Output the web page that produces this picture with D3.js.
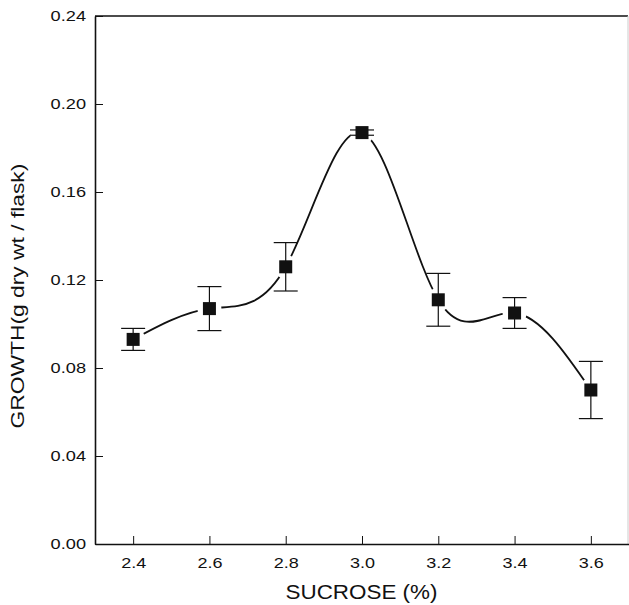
<!DOCTYPE html>
<html>
<head>
<meta charset="utf-8">
<script src="https://cdn.jsdelivr.net/npm/d3@7"></script>
<style>
  body { margin: 0; background: #fff; }
  text { font-family: "Liberation Sans", Arial, sans-serif; fill: #111; }
</style>
</head>
<body>
<div class="canva"></div>
<script>
// data
const sucrose = [2.4, 2.6, 2.8, 3.0, 3.2, 3.4, 3.6]
const growth  = [0.093, 0.107, 0.126, 0.187, 0.111, 0.105, 0.070]
const errs    = [0.005, 0.010, 0.011, 0.0012, 0.012, 0.007, 0.013]
const xTicks  = [2.4, 2.6, 2.8, 3.0, 3.2, 3.4, 3.6]
const yTicks  = [0.00, 0.04, 0.08, 0.12, 0.16, 0.20, 0.24]

const W = 629, H = 605
const plotL = 95, plotR = 628, plotT = 16, plotB = 544

const data = sucrose.map((s, i) => ({x: s, y: growth[i], e: errs[i]}))

const x = d3.scaleLinear().domain([2.3, 3.7]).range([plotL, plotR + 1])
const y = d3.scaleLinear().domain([0, 0.24]).range([plotB, plotT])

const svg = d3.select('.canva').append('svg')
    .attr('width', W)
    .attr('height', H)

// stretch text a bit wider, the scan font is broad
function widen(sel, k) {
    sel.each(function () {
        const len = this.getComputedTextLength()
        d3.select(this).attr('textLength', len * k).attr('lengthAdjust', 'spacingAndGlyphs')
    })
}

// frame
svg.append('line').attr('x1', plotL).attr('x2', plotR).attr('y1', plotT).attr('y2', plotT)
    .attr('stroke', '#111').attr('stroke-width', 1.5)
svg.append('line').attr('x1', plotR).attr('x2', plotR).attr('y1', plotT).attr('y2', plotB)
    .attr('stroke', '#ccc').attr('stroke-width', 1)

const xAxis = svg.append('g')
    .attr('transform', `translate(0,${plotB})`)
    .call(d3.axisBottom(x).tickValues(xTicks).tickSizeInner(-8).tickSizeOuter(0).tickPadding(13)
        .tickFormat(d3.format('.1f')))
xAxis.select('.domain').attr('stroke', '#111').attr('stroke-width', 1.6)
xAxis.selectAll('.tick line').attr('stroke', '#111').attr('stroke-width', 1)
xAxis.selectAll('.tick text').attr('font-size', 15).attr('fill', '#111').call(widen, 1.2)

const yAxis = svg.append('g')
    .attr('transform', `translate(${plotL},0)`)
    .call(d3.axisLeft(y).tickValues(yTicks).tickSizeInner(-8).tickSizeOuter(0).tickPadding(9)
        .tickFormat(d3.format('.2f')))
yAxis.select('.domain').attr('stroke', '#111').attr('stroke-width', 1.6)
yAxis.selectAll('.tick line').attr('stroke', '#111').attr('stroke-width', 1)
yAxis.selectAll('.tick text').attr('font-size', 14).attr('fill', '#111').call(widen, 1.3)

// smooth curve through the means
const line = d3.line()
    .x(d => x(d.x))
    .y(d => y(d.y))
    .curve(d3.curveNatural)

svg.append('path')
    .datum(data)
    .attr('d', line)
    .attr('fill', 'none')
    .attr('stroke', '#111')
    .attr('stroke-width', 1.8)

// white gap round each symbol, like the original plot
svg.selectAll('circle.halo')
    .data(data)
    .enter().append('circle')
    .attr('class', 'halo')
    .attr('cx', d => x(d.x))
    .attr('cy', d => y(d.y))
    .attr('r', 12)
    .attr('fill', '#fff')

// error bars
const eb = svg.append('g').attr('stroke', '#111').attr('stroke-width', 1.2)
data.forEach(d => {
    const cx = x(d.x)
    eb.append('line').attr('x1', cx).attr('x2', cx).attr('y1', y(d.y + d.e)).attr('y2', y(d.y - d.e))
    eb.append('line').attr('x1', cx - 12).attr('x2', cx + 12).attr('y1', y(d.y + d.e)).attr('y2', y(d.y + d.e))
    eb.append('line').attr('x1', cx - 12).attr('x2', cx + 12).attr('y1', y(d.y - d.e)).attr('y2', y(d.y - d.e))
})

// square symbols
svg.selectAll('rect.pt')
    .data(data)
    .enter().append('rect')
    .attr('class', 'pt')
    .attr('x', d => x(d.x) - 6.5)
    .attr('y', d => y(d.y) - 6.5)
    .attr('width', 13)
    .attr('height', 13)
    .attr('fill', '#111')

// axis titles
svg.append('text')
    .attr('x', (plotL + plotR) / 2)
    .attr('y', 599)
    .attr('text-anchor', 'middle')
    .attr('font-size', 20)
    .text('SUCROSE (%)')
    .call(widen, 1.12)

svg.append('text')
    .attr('transform', 'translate(24,296) rotate(-90)')
    .attr('text-anchor', 'middle')
    .attr('font-size', 19)
    .text('GROWTH(g dry wt / flask)')
    .call(widen, 1.2)
</script>
</body>
</html>
